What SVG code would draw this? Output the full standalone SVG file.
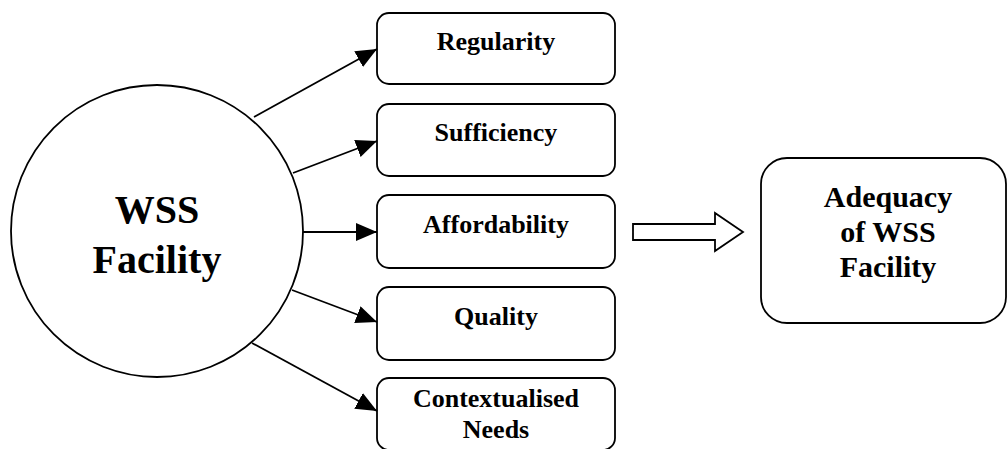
<svg xmlns="http://www.w3.org/2000/svg" width="1008" height="449" viewBox="0 0 1008 449">
  <style>
    .shape { fill: #ffffff; stroke: #000000; stroke-width: 1.8; }
    .label { font-family: "Liberation Serif", "Times New Roman", serif; font-weight: bold; fill: #000000; text-anchor: middle; }
    .box-text { font-size: 26px; }
    .hub-text { font-size: 40px; }
    .out-text { font-size: 30px; }
    .link { stroke: #000000; stroke-width: 1.8; fill: none; marker-end: url(#head); }
  </style>
  <defs>
    <marker id="head" markerUnits="userSpaceOnUse" markerWidth="22" markerHeight="18" refX="21" refY="9" orient="auto">
      <path d="M0,0 L21,9 L0,18 Z" fill="#000000"/>
    </marker>
  </defs>

  <rect width="1008" height="449" fill="#ffffff"/>

  <!-- central facility node -->
  <g id="wss-facility">
    <circle class="shape" cx="157" cy="231" r="146"/>
    <text class="label hub-text" x="157" y="223">WSS</text>
    <text class="label hub-text" x="157" y="273">Facility</text>
  </g>

  <!-- dimension boxes -->
  <g id="regularity">
    <rect class="shape" x="377" y="13" width="238" height="71" rx="12"/>
    <text class="label box-text" x="496" y="50">Regularity</text>
  </g>
  <g id="sufficiency">
    <rect class="shape" x="377" y="104" width="238" height="72" rx="12"/>
    <text class="label box-text" x="496" y="141">Sufficiency</text>
  </g>
  <g id="affordability">
    <rect class="shape" x="377" y="195" width="238" height="73" rx="12"/>
    <text class="label box-text" x="496" y="233">Affordability</text>
  </g>
  <g id="quality">
    <rect class="shape" x="377" y="287" width="238" height="73" rx="12"/>
    <text class="label box-text" x="496" y="325">Quality</text>
  </g>
  <g id="contextualised-needs">
    <rect class="shape" x="377" y="378" width="238" height="72" rx="12"/>
    <text class="label box-text" x="496" y="407">Contextualised</text>
    <text class="label box-text" x="496" y="438">Needs</text>
  </g>

  <!-- outcome node -->
  <g id="adequacy">
    <rect class="shape" x="761" y="158" width="245" height="165" rx="26"/>
    <text class="label out-text" x="888" y="207">Adequacy</text>
    <text class="label out-text" x="888" y="242">of WSS</text>
    <text class="label out-text" x="888" y="277">Facility</text>
  </g>

  <!-- connectors -->
  <g id="connectors">
    <line class="link" x1="254" y1="117" x2="377" y2="49"/>
    <line class="link" x1="293" y1="173" x2="377" y2="141"/>
    <line class="link" x1="303" y1="232" x2="377" y2="232"/>
    <line class="link" x1="292" y1="290" x2="377" y2="322"/>
    <line class="link" x1="252" y1="343" x2="377" y2="411"/>
    <path class="shape" d="M633,224 H715 V213 L743,232 L715,251 V240 H633 Z"/>
  </g>
</svg>
